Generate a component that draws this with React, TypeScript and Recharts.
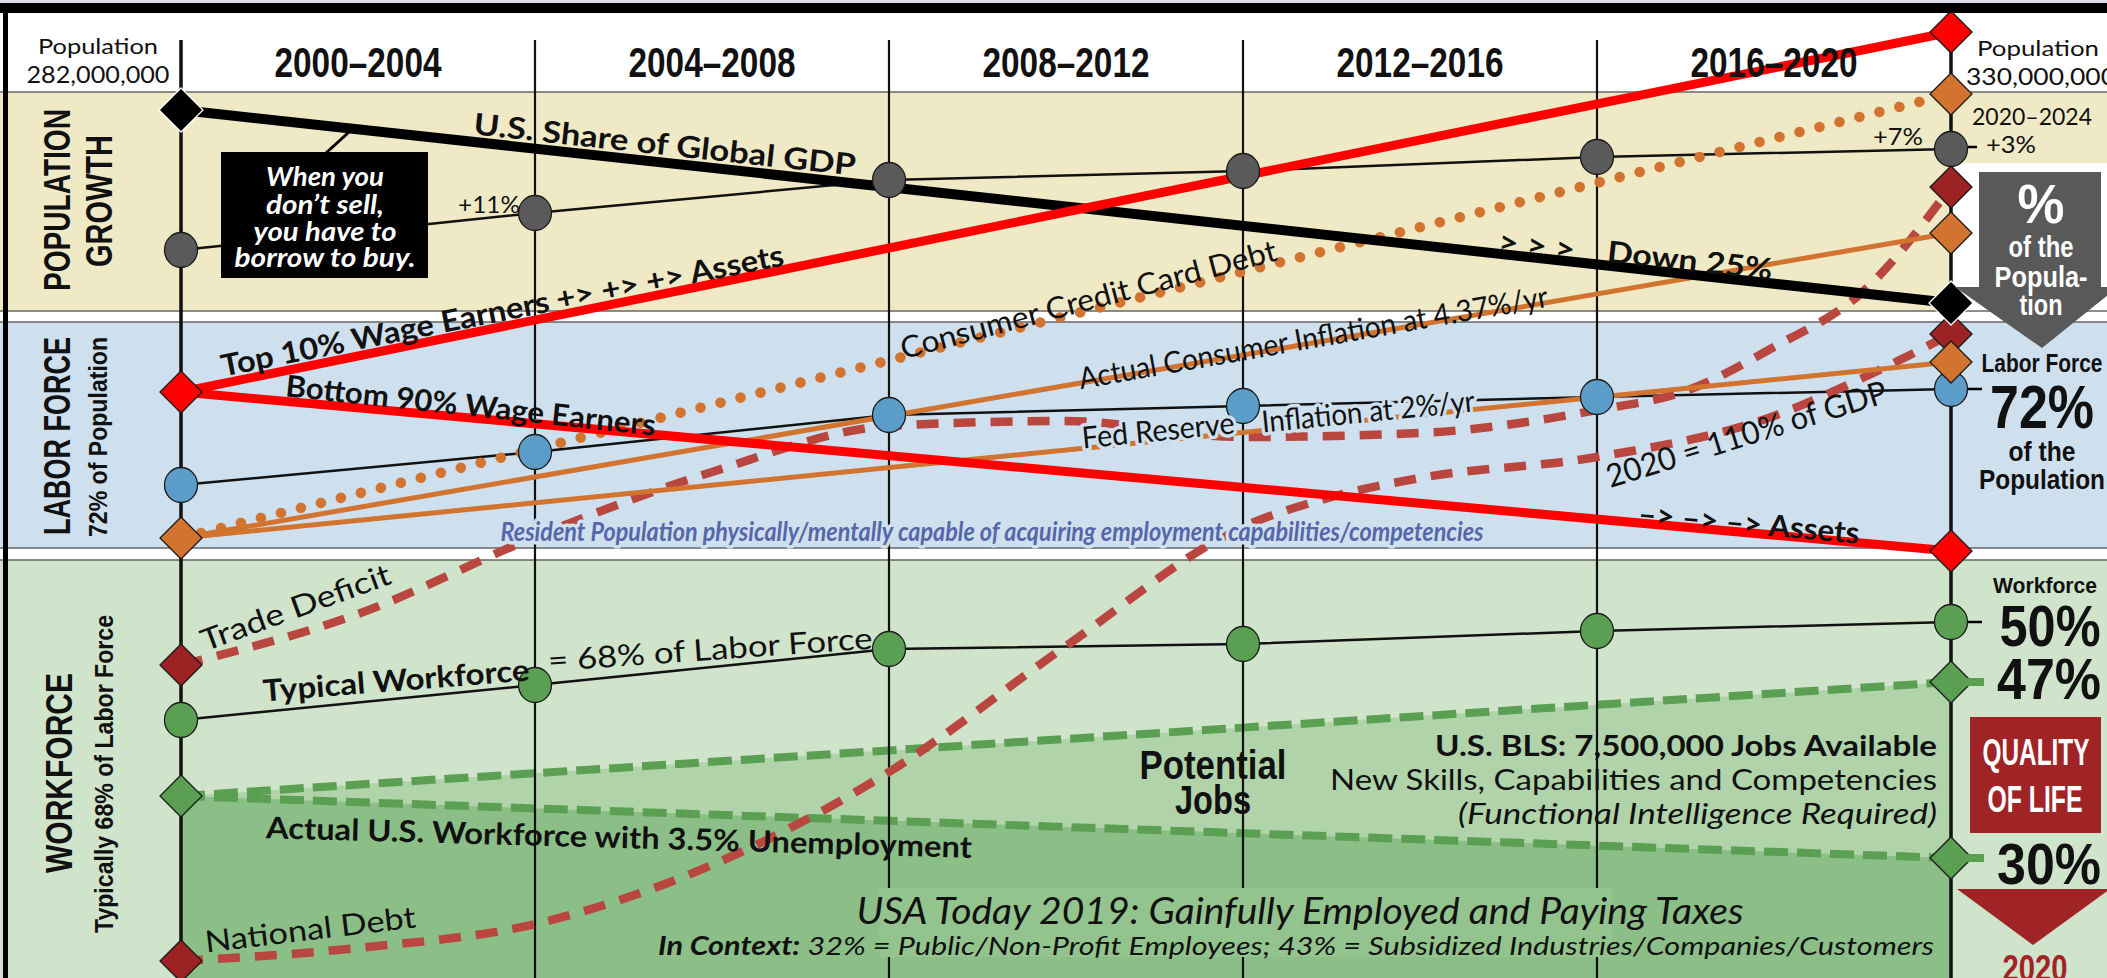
import React from 'react';
import { ComposedChart, Line, Area, XAxis, YAxis, ReferenceArea, ReferenceLine } from 'recharts';

if (typeof document !== 'undefined') document.body.style.margin = '0';

const W = 2107;
const H = 978;

// column boundaries: 0 = 2000 ... 5 = 2020
const years = ['2000', '2004', '2008', '2012', '2016', '2020'];
const periods = ['2000–2004', '2004–2008', '2008–2012', '2012–2016', '2016–2020'];

// values on a 0..97.8 "level" scale (0 = bottom edge of the picture)
const population = [72.8, 76.5, 79.8, 80.7, 82.1, 82.9];
const laborForce = [49.3, 52.6, 56.3, 57.2, 58.1, 58.9];
const workforce = [25.8, 29.3, 32.9, 33.4, 34.7, 35.6];

// straight lines: [2000, 2020]
const gdpShare = [86.8, 67.5];
const top10 = [58.6, 94.6];
const bottom90 = [58.6, 42.7];
const creditCard = [44.0, 88.4];
const actualInflation = [44.0, 74.5];
const fedInflation = [44.0, 61.6];
const potentialJobs = [18.2, 29.6];
const actualWorkforce = [18.2, 12.0];

// curves
const tradeDeficitX = [0, 0.5, 1, 1.5, 2, 2.5, 3, 3.5, 4, 4.25, 4.5, 4.75, 5];
const tradeDeficit = [31.3, 36.4, 44.1, 50.6, 55.2, 55.7, 54.1, 54.5, 56.8, 58.7, 63.1, 68.6, 79.1];
const nationalDebtX = [0, 0.5, 1, 1.5, 2, 2.5, 3, 3.25, 3.5, 4, 4.5, 4.75, 5];
const nationalDebt = [1.7, 3.0, 5.4, 11.3, 20.6, 33.2, 45.1, 48.1, 50.0, 52.1, 56.2, 60.0, 64.4];

const xs = [...new Set([...years.map((_, i) => i), ...tradeDeficitX, ...nationalDebtX])].sort((a, b) => a - b);
const ends = (arr: number[], x: number) => (x === 0 ? arr[0] : x === 5 ? arr[1] : null);
const atX = (px: number[], vals: number[], x: number) => {
  const k = px.indexOf(x);
  return k < 0 ? null : vals[k];
};
const data = xs.map((x) => ({
  x,
  population: Number.isInteger(x) ? population[x] : null,
  laborForce: Number.isInteger(x) ? laborForce[x] : null,
  workforce: Number.isInteger(x) ? workforce[x] : null,
  gdpShare: ends(gdpShare, x),
  top10: ends(top10, x),
  bottom90: ends(bottom90, x),
  creditCard: ends(creditCard, x),
  actualInflation: ends(actualInflation, x),
  fedInflation: ends(fedInflation, x),
  potentialJobs: ends(potentialJobs, x),
  actualWorkforce: ends(actualWorkforce, x),
  tradeDeficit: atX(tradeDeficitX, tradeDeficit, x),
  nationalDebt: atX(nationalDebtX, nationalDebt, x),
}));

// pixel -> axis units (used only for the background bands / frame)
const X = (px: number) => (px - 181) / 354;
const Y = (py: number) => (H - py) / 10;

const RED = '#ff0000';
const DRED = '#9c2224';
const DASHRED = '#b9463f';
const ORANGE = '#d2742f';
const GREEN = '#5a9f52';
const BEIGE = '#efe9c6';
const BLUE = '#cee0ed';
const PALE = '#d0e3cb';

const SANS = "Lato, 'Noto Sans', sans-serif";
const COND = "'Liberation Sans Narrow', 'Liberation Sans', Arial, sans-serif";
const WIDE = "'Liberation Sans', Arial, sans-serif";

function diamondDot(key: string, fill: string, at: number[], stroke = '#1a1a1a', half = 21) {
  return (p: any) => {
    const v = p?.payload?.[key];
    if (p.cx == null || p.cy == null || v == null || !at.includes(p.payload.x)) return <g key={`${key}-${p.index}`} />;
    const { cx, cy } = p;
    return (
      <polygon
        key={`${key}-${p.index}`}
        points={`${cx},${cy - half} ${cx + half},${cy} ${cx},${cy + half} ${cx - half},${cy}`}
        fill={fill}
        stroke={stroke}
        strokeWidth={1.3}
      />
    );
  };
}

function circleDot(key: string, fill: string) {
  return (p: any) => {
    const v = p?.payload?.[key];
    if (p.cx == null || p.cy == null || v == null) return <g key={`${key}-${p.index}`} />;
    return <ellipse key={`${key}-${p.index}`} cx={p.cx} cy={p.cy} rx={16.5} ry={17.5} fill={fill} stroke="#1a1a1a" strokeWidth={1.3} />;
  };
}

type TP = {
  x: number; y: number; s: number; w?: number; r?: number; b?: boolean; i?: boolean;
  c?: string; f?: string; a?: 'start' | 'middle' | 'end'; halo?: string; children: React.ReactNode;
};
function T({ x, y, s, w, r = 0, b, i, c = '#111', f = SANS, a = 'middle', halo, children }: TP) {
  return (
    <text
      x={x}
      y={y}
      fontSize={s}
      fontFamily={f}
      fontWeight={b ? 700 : 400}
      fontStyle={i ? 'italic' : 'normal'}
      fill={c}
      textAnchor={a}
      dominantBaseline="central"
      textLength={w}
      lengthAdjust={w ? 'spacingAndGlyphs' : undefined}
      transform={r ? `rotate(${r} ${x} ${y})` : undefined}
      stroke={halo}
      strokeWidth={halo ? 7 : undefined}
      strokeLinejoin="round"
      paintOrder="stroke"
    >
      {children}
    </text>
  );
}

function Overlay() {
  const colMid = years.slice(0, 5).map((_, i) => 181 + 354 * (i + 0.5));
  return (
    <svg width={W} height={H} style={{ position: 'absolute', left: 0, top: 0, pointerEvents: 'none' }}>
      {/* frame */}
      <rect x={0} y={0} width={W} height={3} fill="#dcdde6" />
      <rect x={0} y={3} width={W} height={10} fill="#000" />
      <rect x={3} y={3} width={5} height={H} fill="#000" />

      {/* header */}
      {periods.map((p, i) => (
        <T key={p} x={colMid[i]} y={62} s={42} w={167} b f={COND}>{p}</T>
      ))}
      <T x={98} y={45} s={22} w={120}>Population</T>
      <T x={98} y={73} s={24} w={143}>282,000,000</T>
      <T x={2038} y={47} s={22} w={122}>Population</T>
      <T x={2041} y={75} s={24} w={150}>330,000,000</T>

      {/* left side titles */}
      <T x={57} y={200} s={36} w={182} r={-90} b f={WIDE}>POPULATION</T>
      <T x={99} y={201} s={36} w={132} r={-90} b f={WIDE}>GROWTH</T>
      <T x={57} y={436} s={36} w={198} r={-90} b f={WIDE}>LABOR FORCE</T>
      <T x={98} y={437} s={26} w={200} r={-90} b f={WIDE}>72% of Population</T>
      <T x={59} y={773} s={36} w={200} r={-90} b f={WIDE}>WORKFORCE</T>
      <T x={104} y={774} s={26} w={318} r={-90} b f={WIDE}>Typically 68% of Labor Force</T>

      {/* population band */}
      <line x1={326} y1={153} x2={349} y2={132} stroke="#000" strokeWidth={3} />
      <rect x={221} y={152} width={207} height={126} fill="#000" />
      <T x={325} y={176} s={26} w={118} b i c="#fff">When you</T>
      <T x={325} y={204} s={26} w={118} b i c="#fff">don’t sell,</T>
      <T x={325} y={231} s={26} w={143} b i c="#fff">you have to</T>
      <T x={325} y={257} s={26} w={181} b i c="#fff">borrow to buy.</T>
      <T x={665} y={143} s={30} w={384} r={6.2} b>U.S. Share of Global GDP</T>
      <T x={1537} y={244} s={30} w={77} r={6.2} b>{'> > >'}</T>
      <T x={1690} y={259} s={30} w={166} r={6.2} b>Down 25%</T>
      <T x={489} y={203} s={24} w={62}>+11%</T>
      <T x={1898} y={135} s={24} w={50}>+7%</T>
      <T x={2032} y={115} s={24} w={120}>2020–2024</T>
      <T x={2011} y={143} s={24} w={50}>+3%</T>
      <line x1={1968} y1={147} x2={1977} y2={147} stroke="#000" strokeWidth={2.5} />
      <T x={502} y={309} s={30} w={573} r={-11.2} b>Top 10% Wage Earners +&gt; +&gt; +&gt; Assets</T>
      <T x={1088} y={298} s={30} w={388} r={-14.8}>Consumer Credit Card Debt</T>

      {/* gray arrow */}
      <polygon
        points="1979,172 2101,172 2101,287 2118,287 2042,348 1955,287 1979,287"
        fill="#595959"
      />
      <T x={2041} y={203} s={56} w={47} b f={COND} c="#fff">%</T>
      <T x={2041} y={246} s={30} w={65} b f={COND} c="#fff">of the</T>
      <T x={2041} y={276} s={30} w={93} b f={COND} c="#fff">Popula-</T>
      <T x={2041} y={304} s={30} w={43} b f={COND} c="#fff">tion</T>

      {/* labor band */}
      <T x={1313} y={336} s={30} w={476} r={-10}>Actual Consumer Inflation at 4.37%/yr</T>
      <T x={471} y={404} s={30} w={372} r={6.1} b>Bottom 90% Wage Earners</T>
      <T x={1158} y={429} s={30} w={153} r={-5.7} halo={BLUE}>Fed Reserve</T>
      <T x={1368} y={410} s={30} w={214} r={-5.7} halo={BLUE}>Inflation at 2%/yr</T>
      <T x={1746} y={433} s={32} w={292} r={-17.2}>2020 = 110% of GDP</T>
      <T x={1749} y={522} s={30} w={222} r={5} b>–&gt; –&gt; –&gt; Assets</T>
      <T x={992} y={531} s={26} w={983} i b c="#5566aa" halo={BLUE}>
        Resident Population physically/mentally capable of acquiring employment capabilities/competencies
      </T>
      <T x={2042} y={363} s={26} w={121} b f={COND}>Labor Force</T>
      <T x={2042} y={406} s={62} w={104} b f={COND}>72%</T>
      <T x={2042} y={451} s={28} w={67} b f={COND}>of the</T>
      <T x={2042} y={479} s={28} w={126} b f={COND}>Population</T>
      <line x1={1968} y1={389} x2={1982} y2={389} stroke="#000" strokeWidth={2.5} />

      {/* workforce band */}
      <T x={295} y={606} s={30} w={200} r={-20}>Trade Deficit</T>
      <T x={396} y={679} s={30} w={267} r={-4.5} b>Typical Workforce</T>
      <T x={710} y={648} s={30} w={325} r={-4}>= 68% of Labor Force</T>
      <T x={1213} y={765} s={40} w={147} b f={COND}>Potential</T>
      <T x={1213} y={800} s={40} w={76} b f={COND}>Jobs</T>
      <T x={1937} y={745} s={28} w={502} b a="end">U.S. BLS: 7,500,000 Jobs Available</T>
      <T x={1937} y={779} s={28} w={607} a="end">New Skills, Capabilities and Competencies</T>
      <T x={1937} y={813} s={28} w={479} i a="end">(Functional Intelligence Required)</T>
      <T x={619} y={836} s={30} w={706} r={1.6} b>Actual U.S. Workforce with 3.5% Unemployment</T>
      <T x={310} y={928} s={30} w={212} r={-6.8}>National Debt</T>
      <rect x={879} y={888} width={733} height={69} fill="#93c48e" />
      <T x={1300} y={910} s={36} w={887} i>USA Today 2019: Gainfully Employed and Paying Taxes</T>
      <T x={1296} y={945} s={26} w={1276} i>
        <tspan fontWeight={700}>In Context:</tspan> 32% = Public/Non-Profit Employees; 43% = Subsidized Industries/Companies/Customers
      </T>

      <T x={2045} y={585} s={22} w={104} b f={COND}>Workforce</T>
      <T x={2050} y={625} s={58} w={101} b f={COND}>50%</T>
      <T x={2049} y={678} s={58} w={104} b f={COND}>47%</T>
      <line x1={1968} y1={622} x2={1982} y2={622} stroke="#000" strokeWidth={2.5} />
      <line x1={1960} y1={682} x2={1984} y2={682} stroke={GREEN} strokeWidth={8} />
      <line x1={1960} y1={858} x2={1984} y2={858} stroke={GREEN} strokeWidth={8} />
      <rect x={1970} y={717} width={131} height={116} fill="#a02326" />
      <T x={2036} y={752} s={36} w={107} b f={COND} c="#fff">QUALITY</T>
      <T x={2035} y={799} s={36} w={95} b f={COND} c="#fff">OF LIFE</T>
      <T x={2049} y={863} s={58} w={104} b f={COND}>30%</T>
      <polygon points="1957,889 2110,889 2033,945" fill="#a02326" />
      <T x={2035} y={968} s={36} w={65} b f={COND} c="#a02326">2020</T>
    </svg>
  );
}

export default function App() {
  const xDomain: [number, number] = [X(0), X(W)];
  return (
    <div style={{ position: 'relative', width: W, height: H, background: '#fff', overflow: 'hidden' }}>
      <ComposedChart width={W} height={H} data={data} margin={{ top: 0, right: 0, bottom: 0, left: 0 }}>
        <XAxis type="number" dataKey="x" domain={xDomain} hide allowDataOverflow />
        <YAxis type="number" domain={[0, 97.8]} hide allowDataOverflow />

        {/* bands */}
        <ReferenceArea x1={X(0)} x2={X(W)} y1={Y(311)} y2={Y(92)} fill={BEIGE} fillOpacity={1} stroke="none" ifOverflow="visible" />
        <ReferenceArea x1={X(1951)} x2={X(W)} y1={Y(311)} y2={Y(163)} fill="#fff" fillOpacity={1} stroke="none" ifOverflow="visible" />
        <ReferenceArea x1={X(0)} x2={X(W)} y1={Y(548)} y2={Y(322)} fill={BLUE} fillOpacity={1} stroke="none" ifOverflow="visible" />
        <ReferenceArea x1={X(0)} x2={X(W)} y1={0} y2={Y(560)} fill={PALE} fillOpacity={1} stroke="none" ifOverflow="visible" />
        {[92, 311, 322, 548, 560].map((py) => (
          <ReferenceLine key={py} y={Y(py)} stroke="#666" strokeWidth={1.5} ifOverflow="visible" />
        ))}

        {/* column boundaries */}
        {years.map((yr, i) => (
          <ReferenceLine
            key={yr}
            segment={[{ x: i, y: Y(40) }, { x: i, y: 0 }]}
            stroke="#111"
            strokeWidth={i === 0 || i === 5 ? 3.5 : 2.2}
            ifOverflow="visible"
          />
        ))}

        {/* potential jobs / actual workforce */}
        <Area
          type="linear"
          dataKey="potentialJobs"
          connectNulls
          stroke={GREEN}
          strokeWidth={8}
          strokeDasharray="24 9"
          fill="#b0d3a9"
          fillOpacity={1}
          dot={diamondDot('potentialJobs', GREEN, [0, 5])}
          activeDot={false}
          isAnimationActive={false}
        />
        <Area
          type="linear"
          dataKey="actualWorkforce"
          connectNulls
          stroke={GREEN}
          strokeWidth={8}
          strokeDasharray="24 9"
          fill="#8cbe87"
          fillOpacity={1}
          dot={diamondDot('actualWorkforce', GREEN, [5])}
          activeDot={false}
          isAnimationActive={false}
        />

        <Line type="linear" dataKey="workforce" connectNulls stroke="#111" strokeWidth={2.5} dot={circleDot('workforce', GREEN)} activeDot={false} isAnimationActive={false} />
        <Line type="linear" dataKey="population" connectNulls stroke="#111" strokeWidth={2.5} dot={circleDot('population', '#5a5a5a')} activeDot={false} isAnimationActive={false} />
        <Line type="linear" dataKey="laborForce" connectNulls stroke="#111" strokeWidth={2.5} dot={circleDot('laborForce', '#5b9cc8')} activeDot={false} isAnimationActive={false} />

        <Line type="monotone" dataKey="nationalDebt" connectNulls stroke={DASHRED} strokeWidth={8.5} strokeDasharray="22 15" dot={diamondDot('nationalDebt', DRED, [0, 5])} activeDot={false} isAnimationActive={false} />
        <Line type="monotone" dataKey="tradeDeficit" connectNulls stroke={DASHRED} strokeWidth={8.5} strokeDasharray="22 15" dot={diamondDot('tradeDeficit', DRED, [0, 5])} activeDot={false} isAnimationActive={false} />

        <Line type="linear" dataKey="fedInflation" connectNulls stroke={ORANGE} strokeWidth={5} dot={diamondDot('fedInflation', ORANGE, [5])} activeDot={false} isAnimationActive={false} />
        <Line type="linear" dataKey="actualInflation" connectNulls stroke={ORANGE} strokeWidth={5} dot={diamondDot('actualInflation', ORANGE, [5])} activeDot={false} isAnimationActive={false} />
        <Line type="linear" dataKey="creditCard" connectNulls stroke={ORANGE} strokeWidth={10.5} strokeDasharray="0.1 20.5" strokeLinecap="round" dot={diamondDot('creditCard', ORANGE, [0, 5])} activeDot={false} isAnimationActive={false} />

        <Line type="linear" dataKey="gdpShare" connectNulls stroke="#000" strokeWidth={10} dot={diamondDot('gdpShare', '#000', [0, 5], '#fff', 22)} activeDot={false} isAnimationActive={false} />

        <Line type="linear" dataKey="bottom90" connectNulls stroke={RED} strokeWidth={9} dot={diamondDot('bottom90', RED, [5])} activeDot={false} isAnimationActive={false} />
        <Line type="linear" dataKey="top10" connectNulls stroke={RED} strokeWidth={9} dot={diamondDot('top10', RED, [0, 5])} activeDot={false} isAnimationActive={false} />
      </ComposedChart>
      <Overlay />
    </div>
  );
}
